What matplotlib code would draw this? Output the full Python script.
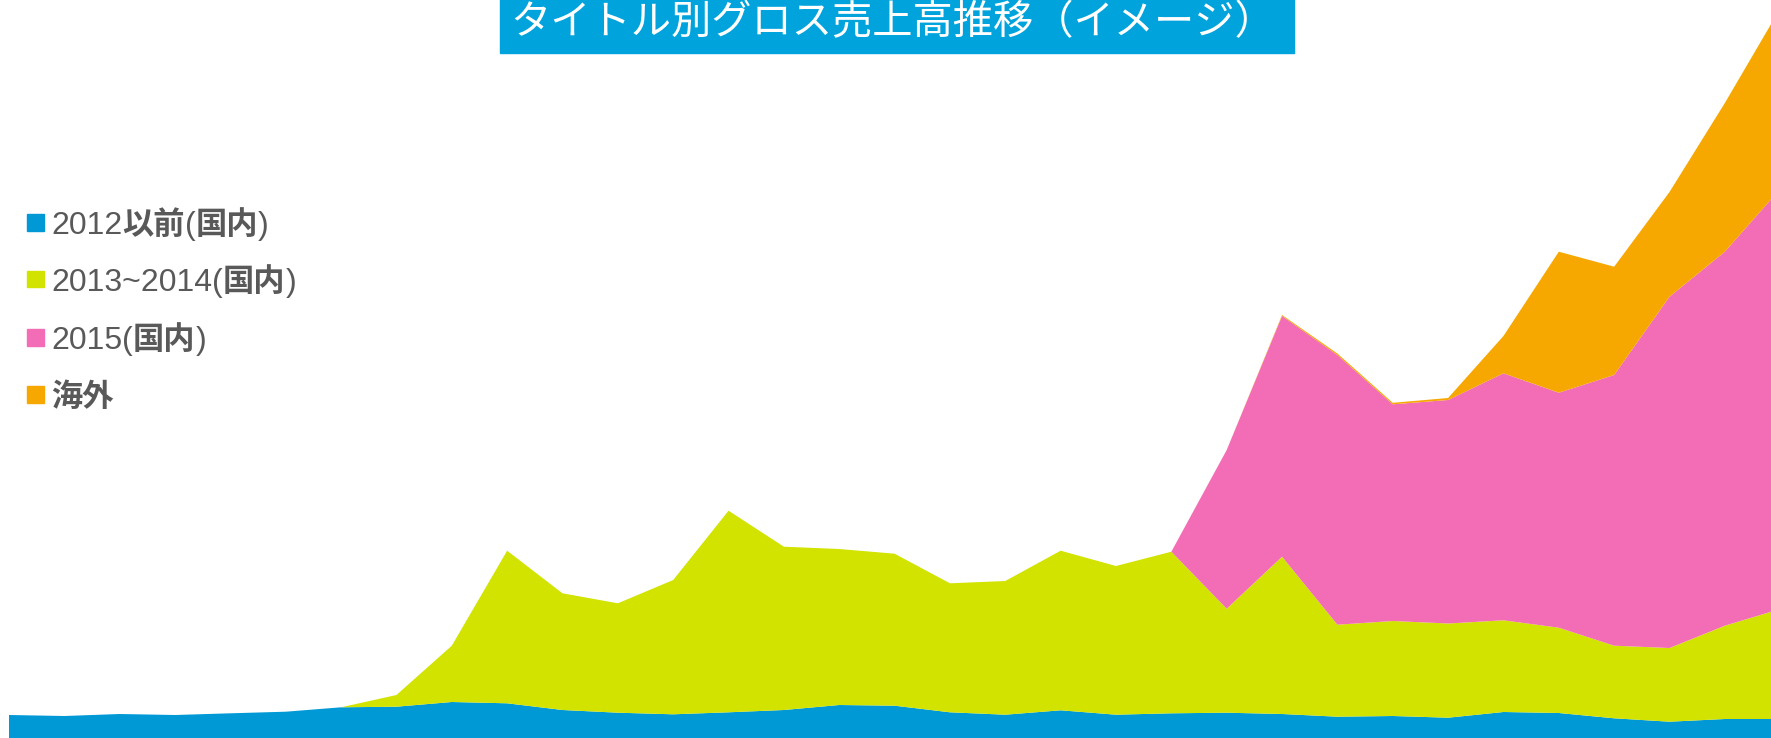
import matplotlib
matplotlib.use("Agg")
import matplotlib.pyplot as plt
from matplotlib.patches import Rectangle
import numpy as np

# 各シリーズの値（ピクセル高さ相当、読み取り値）
periods = np.arange(33)
domestic_2012 = [23, 22, 24, 23, 24.7, 26.3, 30.7, 31.3, 36, 34.7, 28, 25.3, 23.7, 25.7, 28, 33,
                 32.3, 25.7, 23.3, 27.7, 23.3, 24.7, 25.3, 24, 21.3, 22, 20.3, 26, 25, 19.7, 16.3, 19, 19]
domestic_2013_14 = [0, 0, 0, 0, 0, 0, 0, 11.7, 56.3, 152.6, 116.7, 109.4, 134.3, 201.6, 163.3, 156,
                    152, 129, 133.7, 159.6, 148.7, 161.6, 104, 157.3, 92, 95, 94.2, 91.7, 85.3, 72.6, 73.7, 93.3, 110]
domestic_2015 = [0] * 22 + [158.7, 240.7, 269.7, 216.7, 223.5, 247, 235, 270.7, 351.3, 374, 420]
overseas = [0] * 23 + [1, 1.5, 1.5, 2, 37.3, 141, 108.3, 104.7, 148.7, 180.5]

labels = ["2012以前(国内)", "2013~2014(国内)", "2015(国内)", "海外"]
label_parts = [
    [("2012", False), ("以前", True), ("(", False), ("国内", True), (")", False)],
    [("2013~2014", False), ("(", False), ("国内", True), (")", False)],
    [("2015", False), ("(", False), ("国内", True), (")", False)],
    [("海外", True)],
]
colors = ["#0099D6", "#D2E300", "#F26DB5", "#F7A800"]
title = "タイトル別グロス売上高推移（イメージ）"

W, H = 1771, 738
fig = plt.figure(figsize=(W / 100, H / 100), dpi=100)
ax = fig.add_axes([0, 0, 1, 1])
ax.stackplot(periods, domestic_2012, domestic_2013_14, domestic_2015, overseas,
             colors=colors, labels=labels, linewidth=0)
step = 55.35
ax.set_xlim(-9 / step, (W - 9) / step)
ax.set_ylim(0, H)
ax.axis("off")

# タイトルの帯
fig.patches.append(Rectangle((500 / W, 1 - 53 / H), 794 / W, 53 / H + 0.01,
                             transform=fig.transFigure, color="#00A3DC", zorder=5))
fig.text(893 / W, 1 - 34 / H, title, ha="center", va="baseline", color="white",
         fontsize=29, family=["Noto Sans CJK JP", "DejaVu Sans"], zorder=6)

# 凡例
renderer = fig.canvas.get_renderer()
legend_y = [222, 279, 337, 394]
for parts, color, yc in zip(label_parts, colors, legend_y):
    fig.patches.append(Rectangle((27 / W, 1 - (yc + 8.5) / H), 17 / W, 17 / H,
                                 transform=fig.transFigure, color=color))
    x = 51
    for s, bold in parts:
        if bold:
            t = fig.text(x / W, 1 - (yc + 12) / H, s, va="baseline", color="#595959",
                         fontsize=22.5, fontweight="bold", family=["Noto Sans CJK JP"])
        else:
            t = fig.text(x / W, 1 - (yc + 12) / H, s, va="baseline", color="#595959",
                         fontsize=23, family=["Liberation Sans", "Noto Sans CJK JP"])
        x = t.get_window_extent(renderer).x1

fig.savefig("out.png", dpi=100)
